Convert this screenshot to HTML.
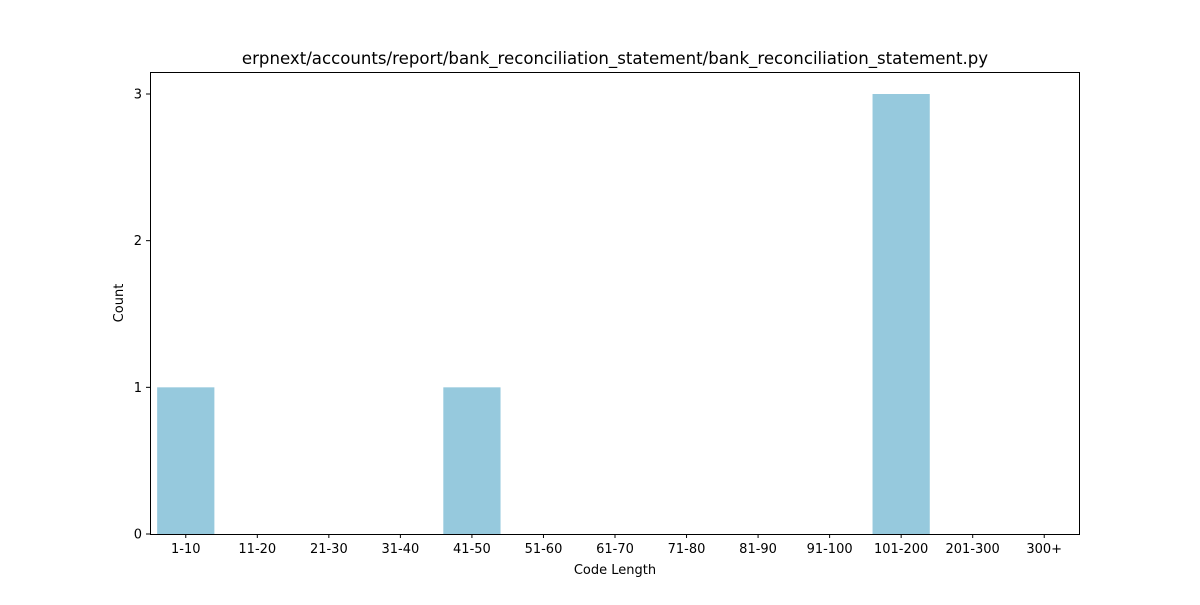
<!DOCTYPE html>
<html><head><meta charset="utf-8"><style>
body{margin:0;background:#fff;font-family:"Liberation Sans","DejaVu Sans",sans-serif;}
svg text{font-family:"DejaVu Sans","Liberation Sans",sans-serif;}
</style></head><body>
<svg id="chart" width="1200" height="600" xmlns="http://www.w3.org/2000/svg">
<rect width="1200" height="600" fill="#fff"/>
<text x="615" y="64" font-size="16.6" text-anchor="middle">erpnext/accounts/report/bank_reconciliation_statement/bank_reconciliation_statement.py</text>
<g id="bars"></g>
<g id="axes"></g>
<rect x="150.5" y="72.5" width="929" height="462" fill="none" stroke="#000" stroke-width="1"/>
<text x="615" y="574" font-size="13" text-anchor="middle">Code Length</text>
<text x="123" y="303" font-size="13" text-anchor="middle" transform="rotate(-90 123 303)">Count</text>
</svg>
<script>
const categories=["1-10","11-20","21-30","31-40","41-50","51-60","61-70","71-80","81-90","91-100","101-200","201-300","300+"];
const counts=[1,0,0,0,1,0,0,0,0,0,3,0,0];
const yTicks=[0,1,2,3];
const L=150,R=1080,T=72,B=534,yMax=3.15;
const ns="http://www.w3.org/2000/svg";
const step=(R-L)/categories.length;
const xC=i=>L+step*(i+0.5);
const y=v=>B-(v/yMax)*(B-T);
const bars=document.getElementById('bars'),axes=document.getElementById('axes');
function mk(t,a,p){const e=document.createElementNS(ns,t);for(const k in a)e.setAttribute(k,a[k]);p.appendChild(e);return e;}
categories.forEach((c,i)=>{
 const v=counts[i];
 if(v>0){
  const r=mk('rect',{x:xC(i)-step*0.4,y:y(v),width:step*0.8,height:B-y(v),fill:'#96c9dd'},bars);
  
  
 }
 const tk=mk('line',{x1:xC(i),x2:xC(i),y1:B,y2:B+4,stroke:'#000'},axes);
 
 
 const t=mk('text',{x:xC(i),y:B+19,'font-size':13,'text-anchor':'middle'},axes);
 t.textContent=c;
 
 
});
yTicks.forEach(v=>{
 const tk=mk('line',{x1:L-4,x2:L,y1:y(v),y2:y(v),stroke:'#000'},axes);
 
 
 const t=mk('text',{x:L-8,y:y(v)+4.5,'font-size':13,'text-anchor':'end'},axes);
 t.textContent=v;
 
 
});
</script>
</body></html>
